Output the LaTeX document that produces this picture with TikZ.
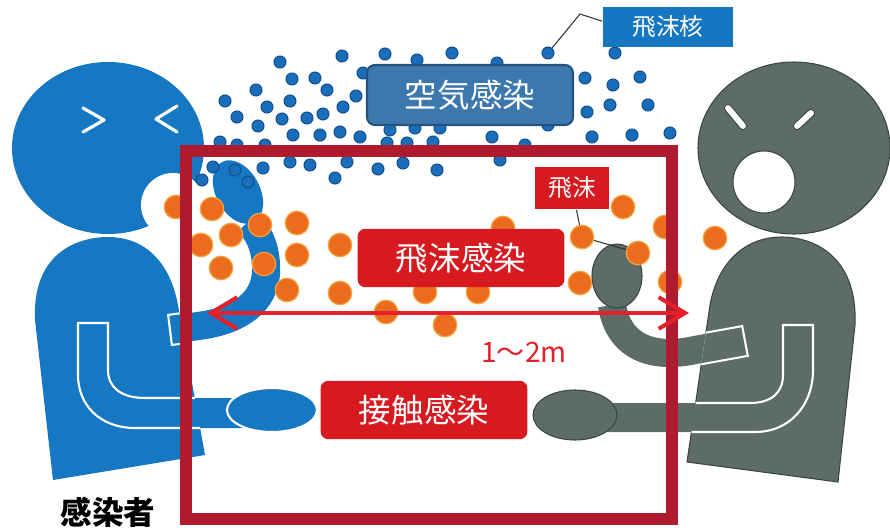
\documentclass[tikz,border=0pt]{standalone}
\usepackage{fontspec}
\usepackage{tikz}
\usetikzlibrary{arrows.meta, positioning}
\newfontfamily\jpfont{Noto Sans CJK JP}
\definecolor{infblue}{HTML}{1677C2}
\definecolor{contgray}{HTML}{5D6C69}
\definecolor{contedge}{HTML}{3A4543}
\definecolor{framered}{HTML}{B01A2E}
\definecolor{boxred}{HTML}{D71920}
\definecolor{arrowred}{HTML}{E4202A}
\definecolor{dropfill}{HTML}{EC6C1F}
\definecolor{droprim}{HTML}{F5A33C}
\definecolor{nucfill}{HTML}{1A6DB8}
\definecolor{nucedge}{HTML}{0E4E8E}
\definecolor{airfill}{HTML}{3C78AE}
\definecolor{airedge}{HTML}{24527F}
\definecolor{tagblue}{HTML}{1577C2}

% body and arm outlines, reused for clipping the white trims
\newcommand{\infbody}{(53,480) -- (35,320) .. controls (32,255) and (75,237) .. (108,237) .. controls (145,237) and (170,262) .. (178,305) -- (205,455) -- cycle}
\newcommand{\contbody}{(838,482) -- (855,325) .. controls (858,255) and (812,237) .. (782,237) .. controls (745,237) and (718,262) .. (710,305) -- (687,462) -- cycle}
\newcommand{\inflowarm}{(78,323) -- (108,323) -- (108,370) .. controls (108,388) and (122,398) .. (145,398) -- (245,398) -- (245,428) -- (135,428) .. controls (100,428) and (78,405) .. (78,375) -- cycle}
\newcommand{\contlowarm}{(783,325) -- (813,325) -- (813,370) .. controls (813,405) and (790,432) .. (755,432) -- (600,432) -- (600,403) -- (750,403) .. controls (772,403) and (783,392) .. (783,375) -- cycle}
\newcommand{\infuparm}{(170,330) -- (205,325) .. controls (245,318) and (268,298) .. (266,265) .. controls (265,245) and (258,232) .. (248,222)}
\newcommand{\contuparm}{(745,341) -- (695,350) .. controls (650,360) and (618,345) .. (612,305)}

\begin{document}
\begin{tikzpicture}[x=0.02cm, y=-0.02cm,
    nucleus/.style={circle, fill=nucfill, draw=nucedge, line width=0.6pt, minimum size=0.24cm, inner sep=0pt},
    droplet/.style={circle, fill=dropfill, draw=droprim, line width=0.7pt, minimum size=0.47cm, inner sep=0pt},
    redbox/.style={fill=boxred, rounded corners=4.5pt, text=white, font=\jpfont\fontsize{18.5}{20}\selectfont, minimum width=4.14cm, minimum height=1.17cm},
    airbox/.style={fill=airfill, draw=airedge, line width=1.2pt, rounded corners=4.5pt, text=white, font=\jpfont\fontsize{18.5}{20}\selectfont, minimum width=4.12cm, minimum height=1.2cm},
    tag/.style={text=white, font=\jpfont\fontsize{13.5}{15}\selectfont, inner sep=0pt},
    leader/.style={draw=black!80, line width=0.6pt},
    trim/.style={draw=white, line width=1.2pt},
]
\useasboundingbox (0,0) rectangle (890,531);

% infected person (left)
\fill[infblue] \infbody;
\fill[infblue] (108,148) ellipse [x radius=96, y radius=86];
\fill[white] (173,205) circle [radius=32];
\draw[white, line width=1.8pt, line cap=round, line join=round] (83,108) -- (104,120) -- (83,132) (177,106) -- (156,119) -- (177,132);
\fill[infblue] \inflowarm;
\begin{scope}
    \clip \infbody;
    \draw[trim] \inflowarm;
\end{scope}
\filldraw[fill=infblue, trim] (272,410) ellipse [x radius=45, y radius=22];
\draw[infblue, line width=16pt] \infuparm;
\begin{scope}
    \clip \infbody;
    \draw[white, line width=18.4pt] \infuparm;
    \draw[infblue, line width=16pt] \infuparm;
\end{scope}
\draw[trim] (168,314) -- (172,346);
\fill[infblue, rotate around={28:(238,192)}] (238,192) ellipse [x radius=22, y radius=34];

% person in contact (right)
\filldraw[fill=contgray, draw=contedge, line width=0.6pt] \contbody;
\filldraw[fill=contgray, draw=contedge, line width=0.6pt] (794,148) ellipse [x radius=96, y radius=86];
\filldraw[fill=white, draw=contedge, line width=0.6pt] (764,182) circle [radius=31];
\draw[contedge, line width=4.6pt, line cap=round] (728,108) -- (743,126) (797,126) -- (811,113);
\draw[white, line width=3.4pt, line cap=round] (728,108) -- (743,126) (797,126) -- (811,113);
\fill[contgray] \contlowarm;
\begin{scope}
    \clip \contbody;
    \draw[trim] \contlowarm;
\end{scope}
\filldraw[fill=contgray, draw=contedge, line width=0.6pt] (575,415) ellipse [x radius=42, y radius=25];
\draw[contgray, line width=16pt] \contuparm;
\begin{scope}
    \clip \contbody;
    \draw[white, line width=18.4pt] \contuparm;
    \draw[contgray, line width=16pt] \contuparm;
\end{scope}
\draw[trim] (742,325) -- (748,357);
\filldraw[fill=contgray, draw=contedge, line width=0.6pt] (617,276) ellipse [x radius=25, y radius=32];

% droplet nuclei
\foreach \x/\y [count=\i] in {280/62, 342/56, 385/54, 417/60, 452/53, 497/63, 615/53,
    292/79, 315/78, 363/73, 256/90, 327/90, 356/96, 225/101, 290/101, 267/107, 343/107,
    237/117, 282/119, 307/118, 323/114, 258/126, 293/135, 320/135, 340/132, 360/137,
    390/130, 415/128, 440/128, 492/137, 548/125, 585/78, 613/85, 640/77, 587/112,
    610/105, 648/105, 592/137, 632/135, 670/133, 220/142, 237/145, 265/145, 387/143,
    407/143, 433/142, 525/145, 213/167, 202/180, 235/170, 263/168, 248/182, 290/162,
    310/165, 347/162, 378/169, 403/163, 437/170, 500/160, 335/178}
    \node[nucleus] (nuc\i) at (\x,\y) {};
\node[nucleus] (nuc) at (548,53) {};

% droplets
\foreach \x/\y [count=\i] in {176/207, 212/209, 201/245, 231/235, 260/225, 221/268,
    264/264, 297/223, 297/255, 287/290, 340/245, 340/293, 386/312, 445/325, 425/292,
    478/292, 503/228, 580/283, 623/207, 665/227, 715/238, 670/282}
    \node[droplet] (drop\i) at (\x,\y) {};
\node[droplet] (dropA) at (582,237) {};
\node[droplet] (dropB) at (638,253) {};

% 1-2 m zone
\draw[framered, line width=6.8pt] (186,151) rectangle (672,519);

% route labels
\node[airbox] (airborne) at (470,95) {空気感染};
\node[redbox] (dropinf) at (461,258) {飛沫感染};
\node[redbox] (contact) at (424,410) {接触感染};
\node[tag, fill=tagblue, minimum width=2.62cm, minimum height=0.8cm] (nuctag) at (668,27) {飛沫核};
\node[tag, fill=boxred, minimum width=1.5cm, minimum height=0.86cm] (droptag) at (572,188) {飛沫};

\coordinate (nucbend) at (580,14);
\draw[leader] (nuc) -- (nucbend) -- (nuctag.175);
\draw[leader] (droptag) -- (dropA) -- (dropB);

% distance
\coordinate (spanL) at (207,313);
\coordinate (spanR) at (689,313);
\draw[arrowred, line width=2.3pt, {Straight Barb[length=15pt, width=18pt]}-{Straight Barb[length=15pt, width=18pt]}] (spanL) -- (spanR);
\node[font=\jpfont\fontsize{16}{18}\selectfont, text=arrowred] (span) at (524,352) {1〜2m};

\node[font=\jpfont\bfseries\fontsize{18}{20}\selectfont] (infected) at (108,512) {感染者};
\end{tikzpicture}
\end{document}
